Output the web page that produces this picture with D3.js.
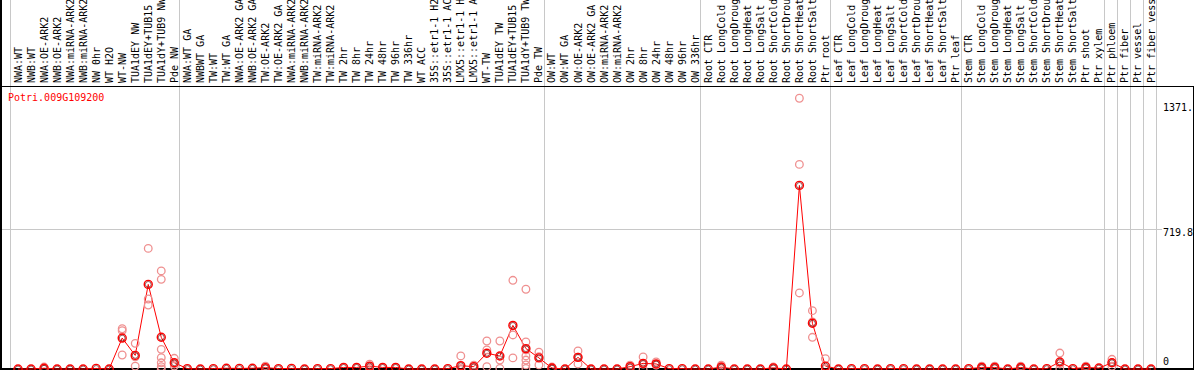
<!DOCTYPE html>
<html><head><meta charset="utf-8">
<script src="https://cdn.jsdelivr.net/npm/d3@7"></script>
<style>html,body{margin:0;padding:0;background:#fff;}svg{display:block;}</style>
</head><body>
<script>
const title = "Potri.009G109200";
const categories = [
"NWA:WT","NWB:WT","NWA:OE-ARK2","NWB:OE-ARK2","NWA:miRNA-ARK2","NWB:miRNA-ARK2","NW 0hr","WT H2O","WT-NW","TUA1dEY NW","TUA1dEY+TUB15","TUA1dY+TUB9 NW","Pde NW",
"NWA:WT GA","NWBWT GA","TW:WT","TW:WT GA","NWA:OE-ARK2 GA","NWB:OE-ARK2 GA","TW:OE-ARK2","TW:OE-ARK2 GA","NWA:miRNA-ARK2","NWB:miRNA-ARK2","TW:miRNA-ARK2","TW:miRNA-ARK2","TW 2hr","TW 8hr","TW 24hr","TW 48hr","TW 96hr","TW 336hr","WT ACC","35S::etr1-1 H2","35S::etr1-1 AC","LMX5::etr1-1 H","LMX5::etr1-1 A","WT-TW","TUA1dEY TW","TUA1dEY+TUB15","TUA1dY+TUB9 TW","Pde TW",
"OW:WT","OW:WT GA","OW:OE-ARK2","OW:OE-ARK2 GA","OW:miRNA-ARK2","OW:miRNA-ARK2","OW 2hr","OW 8hr","OW 24hr","OW 48hr","OW 96hr","OW 336hr",
"Root CTR","Root LongCold","Root LongDroug","Root LongHeat","Root LongSalt","Root ShortCold","Root ShortDrou","Root ShortHeat","Root ShortSalt","Ptr root",
"Leaf CTR","Leaf LongCold","Leaf LongDroug","Leaf LongHeat","Leaf LongSalt","Leaf ShortCold","Leaf ShortDrou","Leaf ShortHeat","Leaf ShortSalt","Ptr leaf",
"Stem CTR","Stem LongCold","Stem LongDroug","Stem LongHeat","Stem LongSalt","Stem ShortCold","Stem ShortDrou","Stem ShortHeat","Stem ShortSalt","Ptr shoot","Ptr xylem",
"Ptr phloem","Ptr fiber","Ptr vessel","Ptr fiber vess"
];
const means = [
0,0,4,0,0,0,3,0,159,70,435,163,32,
2,0,2,4,3,4,7,2,3,0,2,2,8,8,15,8,8,0,0,0,2,17,12,81,67,224,105,57,
5,0,60,0,0,0,12,29,26,2,2,0,
0,10,0,0,0,6,0,944,235,15,
0,2,2,0,2,2,0,0,0,0,
2,8,8,0,8,0,2,36,2,8,5,
32,0,0,0
];
// replicate values for categories that show visible replicate points
const replicates = {
2:[10,2,0], 8:[207,197,72], 9:[132,63,15], 10:[620,360,329], 11:[504,461,101,58,32,12,0], 12:[55,26,15],
19:[15,5,2], 27:[25,15,5], 34:[67,0,0,0], 35:[20,12,4], 36:[144,98,12], 37:[144,46,3], 38:[456,175,57],
39:[410,139,98,67,46,21,3], 40:[87,63,21], 41:[10,5,0], 43:[93,61,26], 47:[20,12,4], 48:[62,25,0], 49:[36,22,20],
54:[20,8,2], 58:[10,6,2], 60:[1392,1052,391], 61:[300,242,163], 62:[53,0,0],
74:[15,8,2], 75:[15,8,2], 77:[15,8,2], 80:[82,26,0], 82:[15,8,2], 84:[50,32,14]
};
const groupBreaks = [0,13,41,53,63,73,84,85,86,87,88];
const yTicks = [0, 719.8, 1371];
const yTickLabels = ["0","719.8","1371."];

const W = 1194, H = 370;
const svg = d3.select("body").append("svg").attr("width", W).attr("height", H);
const font = "'DejaVu Sans Mono', monospace";

const idx = d3.range(categories.length);
const x = d3.scaleBand().domain(d3.range(categories.length + 1)).range([10, 10 + 13.023 * (categories.length + 1)]).paddingInner(0).paddingOuter(0);
const bw = 13.023;
const xc = i => x(i) + bw / 2 + 1.5;
const y = d3.scaleLinear().domain([0, 719.8]).range([369, 229]);

// grid
svg.append("line").attr("x1", 0).attr("x2", 1162).attr("y1", y(719.8)+0.5).attr("y2", y(719.8)+0.5)
  .attr("stroke", "#c8c8c8").attr("stroke-width", 1);
svg.selectAll("line.sep").data(groupBreaks).enter().append("line")
  .attr("x1", d => Math.round(x(d)) + 0.5).attr("x2", d => Math.round(x(d)) + 0.5)
  .attr("y1", 0).attr("y2", H).attr("stroke", "#c8c8c8").attr("stroke-width", 1);

// frame
svg.append("line").attr("x1", 0).attr("x2", W).attr("y1", 86.5).attr("y2", 86.5).attr("stroke", "#000");
svg.append("line").attr("x1", 1).attr("x2", 1).attr("y1", 0).attr("y2", H).attr("stroke", "#000").attr("stroke-width", 2);
svg.append("line").attr("x1", 1193.5).attr("x2", 1193.5).attr("y1", 86).attr("y2", H).attr("stroke", "#000");
svg.append("line").attr("x1", 0).attr("x2", W).attr("y1", 369).attr("y2", 369).attr("stroke", "#000").attr("stroke-width", 2);

// labels
svg.selectAll("text.cat").data(idx).enter().append("text")
  .attr("transform", i => `translate(${xc(i)},83) rotate(-90)`)
  .attr("dy", "0.35em").attr("font-family", font).attr("font-size", 10).attr("fill", "#000")
  .text(i => categories[i]);

// title
svg.append("text").attr("x", 8).attr("y", 101).attr("font-family", font).attr("font-size", 10)
  .attr("fill", "#ff0000").text(title);

// y tick labels
const yOff = [-4, 6.5, 9];
svg.selectAll("text.yt").data(yTicks).enter().append("text")
  .attr("x", 1163).attr("y", (d, k) => y(d) + yOff[k])
  .attr("font-family", font).attr("font-size", 10).attr("fill", "#000")
  .text((d, k) => yTickLabels[k]);

// mean line
svg.append("path").datum(idx).attr("fill", "none").attr("stroke", "#ff0000").attr("stroke-width", 1)
  .attr("d", d3.line().x(i => xc(i)).y(i => y(means[i])));

// replicate points
const reps = [];
Object.keys(replicates).forEach(k => replicates[k].forEach(v => reps.push({i: +k, v})));
svg.selectAll("circle.rep").data(reps).enter().append("circle")
  .attr("cx", d => xc(d.i)).attr("cy", d => y(d.v)).attr("r", 3.8)
  .attr("fill", "none").attr("stroke", "#ef9090").attr("stroke-width", 1.3);

// mean points
svg.selectAll("circle.mo").data(idx).enter().append("circle")
  .attr("cx", i => xc(i)).attr("cy", i => y(means[i])).attr("r", 4)
  .attr("fill", "none").attr("stroke", "#ff0000").attr("stroke-width", 1.4);
svg.selectAll("circle.mi").data(idx).enter().append("circle")
  .attr("cx", i => xc(i)).attr("cy", i => y(means[i])).attr("r", 2.9)
  .attr("fill", "none").attr("stroke", "#600000").attr("stroke-width", 0.8).attr("opacity", 0.8);
</script>
</body></html>
